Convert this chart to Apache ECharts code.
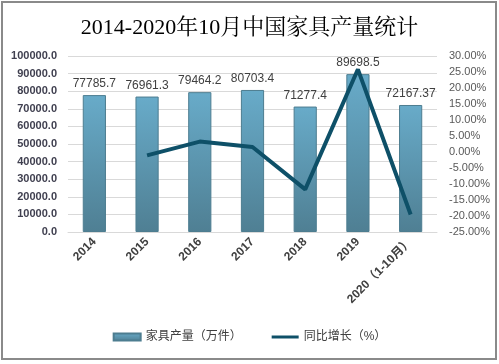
<!DOCTYPE html>
<html><head><meta charset="utf-8">
<script src="https://cdn.jsdelivr.net/npm/echarts@6/dist/echarts.min.js"></script>
<style>html,body{margin:0;padding:0;background:#fff}#c{width:499px;height:364px}</style>
</head><body><div id="c"></div>
<script>
const categories = ['2014','2015','2016','2017','2018','2019','2020（1-10月）'];
const production = [77785.7, 76961.3, 79464.2, 80703.4, 71277.4, 89698.5, 72167.37];
const productionLabels = ['77785.7','76961.3','79464.2','80703.4','71277.4','89698.5','72167.37'];
const growth = [null, -1.06, 3.25, 1.56, -11.68, 25.84, -19.54];
const titleText = '2014-2020年10月中国家具产量统计';
const seriesNames = ['家具产量（万件）', '同比增长（%）'];

const chart = echarts.init(document.getElementById('c'), null, {renderer:'canvas'});
chart.setOption({
  animation:false,
  backgroundColor:'#fff',
  title:{text:titleText,left:'center',top:12,
    textStyle:{fontFamily:'"Liberation Serif","Noto Serif CJK SC",serif',fontSize:22,fontWeight:'normal',color:'#000'}},
  graphic:[{type:'rect',shape:{x:2,y:2,width:494,height:357},style:{fill:'none',stroke:'#8a8a8a',lineWidth:2},silent:true}],
  grid:{left:68,right:62,top:56,bottom:132},
  legend:{bottom:16,left:'center',itemGap:30,itemWidth:27,itemHeight:7,
    textStyle:{fontSize:12,color:'#404040',fontFamily:'"Liberation Sans","Noto Sans CJK SC",sans-serif'},
    data:[{name:seriesNames[0],icon:'rect'},{name:seriesNames[1],icon:'path://M0,0H27V3H0Z'}]},
  xAxis:{type:'category',data:categories,
    axisLine:{lineStyle:{color:'#d9d9d9'}},axisTick:{show:false},
    axisLabel:{rotate:45,interval:0,margin:8,fontSize:12,fontWeight:'bold',color:'#404040',
      fontFamily:'"Liberation Sans","Noto Sans CJK SC",sans-serif'}},
  yAxis:[
    {type:'value',min:0,max:100000,interval:10000,
     axisLine:{show:false},axisTick:{show:false},
     splitLine:{lineStyle:{color:'#d9d9d9'}},
     axisLabel:{formatter:v=>v.toFixed(1),fontSize:11,fontWeight:'bold',color:'#404050',margin:11,
       fontFamily:'"Liberation Sans",sans-serif'}},
    {type:'value',min:-25,max:30,interval:5,
     axisLine:{show:false},axisTick:{show:false},splitLine:{show:false},
     axisLabel:{formatter:v=>v.toFixed(2)+'%',fontSize:11,color:'#595959',margin:12,
       fontFamily:'"Liberation Sans",sans-serif'}}
  ],
  series:[
    {name:seriesNames[0],type:'bar',data:production,barWidth:'44%',yAxisIndex:0,
     itemStyle:{borderColor:'#4d7d90',borderWidth:1,
       color:new echarts.graphic.LinearGradient(0,0,0,1,[{offset:0,color:'#68abc9'},{offset:1,color:'#4f7f93'}])},
     label:{show:true,position:'top',distance:5,fontSize:12,color:'#404040',
       fontFamily:'"Liberation Sans",sans-serif',
       formatter:p=>productionLabels[p.dataIndex]}},
    {name:seriesNames[1],type:'line',data:growth,yAxisIndex:1,symbol:'none',
     lineStyle:{color:'#0e5068',width:4},itemStyle:{color:'#0e5068'}}
  ]
});
</script></body></html>
